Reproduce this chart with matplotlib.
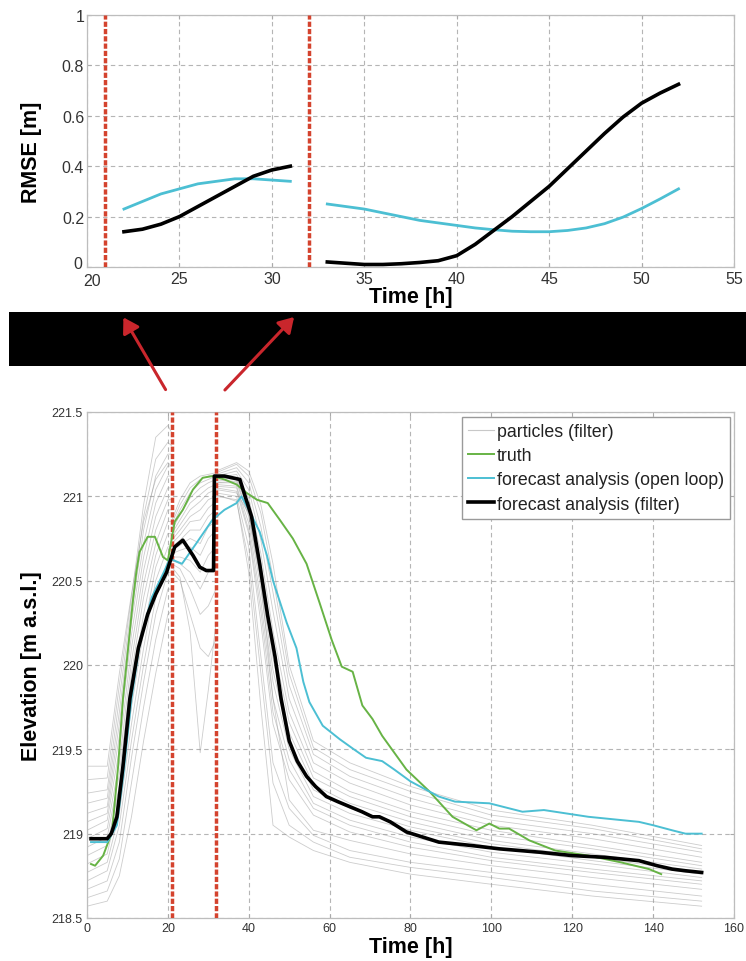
import numpy as np
import matplotlib.pyplot as plt
from matplotlib.patches import Rectangle, FancyArrowPatch
from matplotlib.transforms import ScaledTranslation

plt.rcParams['font.family'] = ['Liberation Sans', 'DejaVu Sans']

# ---- RMSE panel (top) ----
rmse_t1 = [22, 23, 24, 25, 26, 27, 28, 29, 30, 31]
rmse_ol1 = [0.23, 0.26, 0.29, 0.31, 0.33, 0.34, 0.35, 0.35, 0.345, 0.34]
rmse_pf1 = [0.14, 0.15, 0.17, 0.20, 0.24, 0.28, 0.32, 0.36, 0.385, 0.40]
rmse_t2 = [33, 34, 35, 36, 37, 38, 39, 40, 41, 42, 43, 44, 45, 46, 47, 48, 49, 50, 51, 52]
rmse_ol2 = [0.25, 0.24, 0.23, 0.215, 0.20, 0.185, 0.175, 0.165, 0.155, 0.148, 0.142, 0.14, 0.14,
            0.145, 0.155, 0.172, 0.198, 0.232, 0.27, 0.31]
rmse_pf2 = [0.02, 0.015, 0.01, 0.01, 0.013, 0.018, 0.025, 0.045, 0.09, 0.145, 0.20, 0.26, 0.32,
            0.39, 0.46, 0.53, 0.595, 0.65, 0.69, 0.725]
assim_times = [21, 32]

# ---- Elevation panel (bottom) ----
truth_t = [1, 2, 4, 6.2, 7.7, 8.9, 10.6, 11.4, 12.2, 13, 15, 16.8, 18.8, 20, 21.7, 23.7, 26.2, 28.6, 31,
           34, 37, 39.5, 42, 44.7, 47.7, 50.9, 54.3, 57.5, 60.5, 63, 65.7, 68.1, 70.6, 73, 79, 84.7,
           90.4, 96.3, 99.5, 102, 104.4, 109.4, 115.8, 124, 132, 139, 142]
truth_h = [218.82, 218.81, 218.87, 219.01, 219.4, 219.8, 220.2, 220.39, 220.55, 220.67, 220.76, 220.76,
           220.64, 220.62, 220.85, 220.92, 221.04, 221.11, 221.12, 221.1, 221.07, 221.02, 220.98,
           220.96, 220.86, 220.75, 220.6, 220.37, 220.15, 219.99, 219.96, 219.76, 219.68, 219.58,
           219.38, 219.25, 219.1, 219.02, 219.06, 219.03, 219.03, 218.96, 218.9, 218.87, 218.83,
           218.79, 218.76]

openloop_t = [1, 5, 7.4, 9, 11, 13, 16, 19, 20.5, 23.5, 27, 31, 34, 37, 38.2, 40, 42.7, 44.5, 46,
              49.4, 51.8, 53.5, 55, 58.3, 62.5, 66, 69, 73, 76, 80, 87, 91, 99.5, 107.7, 113, 124,
              136.5, 140, 144.7, 148, 152]
openloop_h = [218.95, 218.95, 219.05, 219.35, 219.8, 220.12, 220.4, 220.55, 220.63, 220.6, 220.72,
              220.86, 220.92, 220.96, 221.0, 220.92, 220.79, 220.65, 220.5, 220.25, 220.1, 219.9,
              219.78, 219.64, 219.56, 219.5, 219.45, 219.43, 219.38, 219.31, 219.22, 219.19, 219.18,
              219.13, 219.14, 219.1, 219.07, 219.05, 219.02, 219.0, 219.0]

filter_t = [1, 5, 6, 7.4, 8.9, 10.6, 12.7, 15, 17, 19.7, 21.7, 23.7, 26.2, 27.9, 29.5, 31.3, 31.5, 34,
            37.8, 40.7, 42.7, 44.7, 46.5, 48, 50, 52, 54.3, 56.5, 59.2, 62, 65, 68, 70.6, 72.3, 75,
            79, 83, 87, 95, 102, 112, 120, 128, 136.5, 141, 144.7, 148, 152]
filter_h = [218.97, 218.97, 219.0, 219.1, 219.4, 219.8, 220.1, 220.3, 220.42, 220.55, 220.7, 220.74,
            220.65, 220.58, 220.56, 220.56, 221.12, 221.12, 221.1, 220.88, 220.6, 220.29, 220.05,
            219.8, 219.55, 219.43, 219.34, 219.28, 219.22, 219.19, 219.16, 219.13, 219.1, 219.1,
            219.07, 219.01, 218.98, 218.95, 218.93, 218.91, 218.89, 218.87, 218.86, 218.84, 218.81,
            218.79, 218.78, 218.77]

# particles: three forecast windows (resampled at 21 h and 32 h)
part_t_a = [0, 5, 8, 11, 14, 17, 20, 20.9]
part_h_a = [
    [218.57, 218.60, 218.75, 219.10, 219.55, 219.95, 220.30, 220.32],
    [218.62, 218.66, 218.85, 219.30, 219.75, 220.15, 220.45, 220.45],
    [218.67, 218.72, 218.95, 219.45, 219.90, 220.30, 220.55, 220.55],
    [218.72, 218.78, 219.05, 219.55, 220.00, 220.40, 220.62, 220.62],
    [218.77, 218.83, 219.12, 219.65, 220.10, 220.50, 220.70, 220.70],
    [218.82, 218.88, 219.20, 219.75, 220.20, 220.58, 220.78, 220.78],
    [218.87, 218.93, 219.28, 219.85, 220.30, 220.65, 220.85, 220.85],
    [218.92, 218.98, 219.35, 219.95, 220.40, 220.72, 220.92, 220.92],
    [218.97, 219.03, 219.42, 220.02, 220.48, 220.80, 220.98, 220.98],
    [219.02, 219.08, 219.50, 220.10, 220.56, 220.88, 221.05, 221.05],
    [219.07, 219.12, 219.58, 220.18, 220.64, 220.96, 221.12, 221.12],
    [219.12, 219.16, 219.65, 220.25, 220.72, 221.04, 221.18, 221.18],
    [219.18, 219.21, 219.72, 220.30, 220.80, 221.12, 221.25, 221.25],
    [219.24, 219.26, 219.80, 220.35, 220.88, 221.22, 221.32, 221.30],
    [219.32, 219.33, 219.88, 220.40, 220.95, 221.35, 221.42, 221.38],
    [219.40, 219.40, 219.95, 220.42, 220.85, 221.10, 221.20, 221.18],
]
part_t_b = [21, 23, 25.5, 28, 30, 31.9]
part_h_b = [
    [220.55, 220.50, 220.30, 220.10, 220.05, 220.15],
    [220.58, 220.52, 220.20, 219.48, 219.85, 220.25],
    [220.60, 220.57, 220.45, 220.30, 220.35, 220.45],
    [220.62, 220.60, 220.55, 220.45, 220.55, 220.60],
    [220.64, 220.64, 220.62, 220.55, 220.65, 220.70],
    [220.66, 220.68, 220.70, 220.65, 220.75, 220.80],
    [220.68, 220.71, 220.75, 220.72, 220.82, 220.85],
    [220.70, 220.74, 220.80, 220.80, 220.88, 220.92],
    [220.72, 220.77, 220.85, 220.86, 220.93, 220.97],
    [220.74, 220.80, 220.88, 220.92, 220.98, 221.00],
    [220.76, 220.83, 220.92, 220.97, 221.02, 221.04],
    [220.78, 220.86, 220.96, 221.01, 221.05, 221.07],
    [220.80, 220.89, 220.99, 221.05, 221.08, 221.10],
    [220.82, 220.92, 221.02, 221.08, 221.10, 221.12],
    [220.84, 220.95, 221.05, 221.10, 221.12, 221.13],
    [220.86, 220.98, 221.08, 221.12, 221.13, 221.14],
]
part_t_c = [32, 37, 40, 43, 46, 50, 56, 65, 80, 100, 125, 152]
part_h_c = [
    [221.00, 220.98, 220.55, 219.75, 219.05, 218.98, 218.90, 218.83, 218.76, 218.70, 218.63, 218.57],
    [221.01, 220.97, 220.62, 219.95, 219.30, 219.05, 218.95, 218.86, 218.80, 218.74, 218.66, 218.60],
    [221.02, 221.00, 220.70, 220.05, 219.42, 219.15, 218.99, 218.90, 218.83, 218.77, 218.70, 218.63],
    [221.04, 221.02, 220.90, 220.50, 219.80, 219.20, 219.02, 218.96, 218.88, 218.81, 218.74, 218.67],
    [221.05, 221.03, 220.78, 220.25, 219.65, 219.32, 219.11, 219.01, 218.92, 218.84, 218.77, 218.70],
    [221.06, 221.05, 220.80, 220.32, 219.72, 219.38, 219.15, 219.05, 218.95, 218.86, 218.79, 218.72],
    [221.07, 221.06, 220.84, 220.38, 219.80, 219.44, 219.18, 219.08, 218.98, 218.89, 218.82, 218.74],
    [221.08, 221.08, 220.88, 220.45, 219.90, 219.50, 219.22, 219.12, 219.02, 218.92, 218.84, 218.76],
    [221.08, 221.09, 220.90, 220.50, 219.97, 219.55, 219.26, 219.15, 219.04, 218.94, 218.86, 218.77],
    [221.09, 221.10, 220.93, 220.55, 220.04, 219.60, 219.29, 219.18, 219.07, 218.96, 218.88, 218.79],
    [221.10, 221.11, 220.96, 220.60, 220.12, 219.66, 219.33, 219.22, 219.10, 218.99, 218.91, 218.81],
    [221.11, 221.13, 220.99, 220.66, 220.20, 219.72, 219.37, 219.25, 219.13, 219.02, 218.93, 218.83],
    [221.12, 221.15, 221.04, 220.74, 220.32, 219.80, 219.42, 219.30, 219.17, 219.05, 218.97, 218.86],
    [221.13, 221.17, 221.08, 220.82, 220.43, 219.88, 219.47, 219.34, 219.21, 219.08, 219.00, 218.89],
    [221.14, 221.19, 221.12, 220.90, 220.52, 219.95, 219.51, 219.38, 219.25, 219.11, 219.03, 218.91],
    [221.15, 221.20, 221.15, 220.95, 220.60, 220.00, 219.55, 219.42, 219.28, 219.14, 219.05, 218.93],
]

C_GREEN = '#67b345'
C_CYAN = '#4cbfd3'
C_RED = '#d4432e'
C_PART = '#9a9a9a'
GRID_LS = (0, (4, 3))


def style_axes(ax, label_size):
    ax.grid(True, linestyle=GRID_LS, color='#b5b5b5', linewidth=0.8)
    ax.set_axisbelow(True)
    for s in ax.spines.values():
        s.set_color('#bdbdbd')
        s.set_linewidth(0.9)
    ax.tick_params(direction='in', length=3, top=True, right=True, color='#aaaaaa',
                   labelcolor='#333333', labelsize=label_size, pad=3)


fig = plt.figure(figsize=(7.46, 9.62), dpi=100)

# top panel
ax1 = fig.add_axes([0.1166, 0.7214, 0.8673, 0.262])
style_axes(ax1, 11.5)
ax1.tick_params(axis='y', pad=2)
for t in assim_times:
    ax1.axvline(t, color=C_RED, lw=2.5, linestyle=(0, (1.5, 0.6)), zorder=3)
ax1.plot(rmse_t1, rmse_ol1, color=C_CYAN, lw=2, zorder=4)
ax1.plot(rmse_t2, rmse_ol2, color=C_CYAN, lw=2, zorder=4)
ax1.plot(rmse_t1, rmse_pf1, color='black', lw=2.6, zorder=5)
ax1.plot(rmse_t2, rmse_pf2, color='black', lw=2.6, zorder=5)
ax1.set_xlim(20, 55)
ax1.set_ylim(0, 1)
ax1.set_xticks(np.arange(20, 56, 5))
ax1.set_yticks([0, 0.2, 0.4, 0.6, 0.8, 1])
ax1.set_yticklabels(['0', '0.2', '0.4', '0.6', '0.8', '1'])
ax1.set_xlabel('Time [h]', fontsize=15.5, fontweight='bold')
ax1.set_ylabel('RMSE [m]', fontsize=15.5, fontweight='bold')
ax1.xaxis.set_label_coords(0.5, -0.075)
ax1.yaxis.set_label_coords(-0.069, 0.46)
# MATLAB-like nudges of the corner labels ("0" and "20")
fig.canvas.draw()
ax1.get_xticklabels()[0].set_transform(ax1.get_xticklabels()[0].get_transform()
                                       + ScaledTranslation(5 / 100, -2 / 100, fig.dpi_scale_trans))
ax1.get_yticklabels()[0].set_transform(ax1.get_yticklabels()[0].get_transform()
                                       + ScaledTranslation(-2 / 100, 5 / 100, fig.dpi_scale_trans))

# bottom panel
ax2 = fig.add_axes([0.1166, 0.0447, 0.8673, 0.526])
style_axes(ax2, 9)
for rows, tt in ((part_h_a, part_t_a), (part_h_b, part_t_b), (part_h_c, part_t_c)):
    for r in rows:
        ax2.plot(tt, r, color=C_PART, lw=0.6, alpha=0.5, zorder=2)
ax2.plot([], [], color='#c8c8c8', lw=0.8, label='particles (filter)')
for t in assim_times:
    ax2.axvline(t, color=C_RED, lw=2.5, linestyle=(0, (1.5, 0.6)), zorder=3)
ax2.plot(truth_t, truth_h, color=C_GREEN, lw=1.4, zorder=4, label='truth')
ax2.plot(openloop_t, openloop_h, color=C_CYAN, lw=1.4, zorder=4,
         label='forecast analysis (open loop)')
ax2.plot(filter_t, filter_h, color='black', lw=2.6, zorder=5,
         label='forecast analysis (filter)')
ax2.set_xlim(0, 160)
ax2.set_ylim(218.5, 221.5)
ax2.set_xticks(np.arange(0, 161, 20))
ax2.set_yticks([218.5, 219, 219.5, 220, 220.5, 221, 221.5])
ax2.set_yticklabels(['218.5', '219', '219.5', '220', '220.5', '221', '221.5'])
ax2.set_xlabel('Time [h]', fontsize=15.5, fontweight='bold')
ax2.set_ylabel('Elevation [m a.s.l.]', fontsize=15.5, fontweight='bold')
ax2.xaxis.set_label_coords(0.5, -0.036)
ax2.yaxis.set_label_coords(-0.069, 0.5)
leg = ax2.legend(loc='upper right', bbox_to_anchor=(0.994, 0.99), borderaxespad=0,
                 fontsize=12.8, handlelength=1.45, handletextpad=0.15, labelspacing=0.4,
                 borderpad=0.35, fancybox=False, framealpha=1, edgecolor='#9a9a9a')
for txt in leg.get_texts():
    txt.set_color('#222222')

# black band and arrows linking the panels
fig.add_artist(Rectangle((0.012, 0.6185), 0.988, 0.0561, transform=fig.transFigure,
                         facecolor='black', edgecolor='none', zorder=1))
for x0, x1 in ((167, 122), (223, 296)):
    arr = FancyArrowPatch((x0 / 746, 1 - 393 / 962), (x1 / 746, 1 - 316 / 962),
                          transform=fig.transFigure, arrowstyle='-|>,head_length=9,head_width=5.5',
                          color='#c9262c', lw=2.2, zorder=3)
    fig.add_artist(arr)

fig.savefig('out.png', dpi=100)
